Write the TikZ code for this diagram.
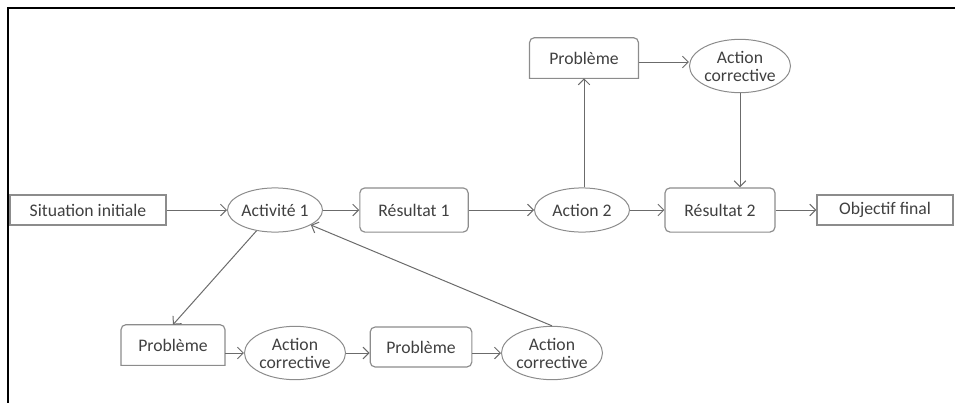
\documentclass[tikz,border=0pt]{standalone}
\usepackage{fontspec}
\setmainfont{Carlito}
\usetikzlibrary{shapes,arrows.meta,positioning,calc}
\definecolor{boxgray}{rgb}{0.55, 0.55, 0.55}
\definecolor{linegray}{rgb}{0.42, 0.42, 0.42}
\definecolor{textgray}{rgb}{0.25, 0.25, 0.25}
\tikzset{
    every node/.style={font=\fontsize{10.6}{10.8}\selectfont, text=textgray, inner sep=0pt},
    plainbox/.style={draw=boxgray, rectangle, line width=0.9pt},
    roundbox/.style={draw=boxgray, rectangle, rounded corners=3pt, line width=0.7pt},
    probbox/.style={rectangle, minimum width=63pt, minimum height=24pt,
        append after command={\pgfextra{\draw[boxgray, line width=0.7pt]
            (\tikzlastnode.south west) [rounded corners=3pt]-- (\tikzlastnode.north west)
            -- (\tikzlastnode.north east) [sharp corners]-- (\tikzlastnode.south east) -- cycle;}}},
    actell/.style={draw=boxgray, ellipse, line width=0.6pt, minimum width=57pt, minimum height=26.5pt},
    correll/.style={draw=boxgray, ellipse, line width=0.6pt, minimum width=57pt, minimum height=32pt, align=center},
    link/.style={->, draw=linegray, line width=0.6pt}
}
\begin{document}
\begin{tikzpicture}[x=0.6pt, y=0.6pt, >={Straight Barb[length=3.5pt,width=7pt]}]
    \useasboundingbox (0,0) rectangle (955,-403);
    \draw[line width=1.2pt] (8,-403) -- (8,-8) -- (955,-8);

    % main line
    \node[plainbox, minimum width=93.6pt, minimum height=18pt] (sit) at (88,-210) {Situation initiale};
    \node[actell] (act1) at (275,-210) {Activité 1};
    \node[roundbox, minimum width=65pt, minimum height=26.5pt] (res1) at (414,-210) {Résultat 1};
    \node[actell] (act2) at (582,-210) {Action 2};
    \node[roundbox, minimum width=66pt, minimum height=26.5pt] (res2) at (720,-210) {Résultat 2};
    \node[plainbox, minimum width=81.6pt, minimum height=18pt] (obj) at (885,-210) {Objectif final};

    % top loop
    \node[probbox, minimum width=65pt] (probT) at (584,-58) {Problème};
    \node[correll] (corT) at (740,-66) {Action\\corrective};

    % bottom loop
    \node[probbox, minimum width=62pt] (probB1) at (173,-345) {Problème};
    \node[correll] (corB1) at (295,-353) {Action\\corrective};
    \node[roundbox, minimum width=61pt, minimum height=24pt] (probB2) at (421,-347) {Problème};
    \node[correll] (corB2) at (552,-353) {Action\\corrective};

    \draw[link] (sit) -- (act1);
    \draw[link] (act1) -- (res1);
    \draw[link] (res1) -- (act2);
    \draw[link] (act2) -- (res2);
    \draw[link] (res2) -- (obj);

    \draw[link] (act2.north -| probT.south) -- (probT.south);
    \draw[link] ([yshift=-2.4pt]probT.east) -- ([yshift=-2.4pt]probT.east -| corT.west);
    \draw[link] (corT.south) -- (corT.south |- res2.north);

    \draw[link] (act1) -- (probB1.north);
    \draw[link] (probB1.east |- corB1.west) -- (corB1.west);
    \draw[link] (corB1.east) -- (corB1.east -| probB2.west);
    \draw[link] (probB2.east |- corB2.west) -- (corB2.west);
    \draw[link] (corB2.north) -- (act1);
\end{tikzpicture}
\end{document}
